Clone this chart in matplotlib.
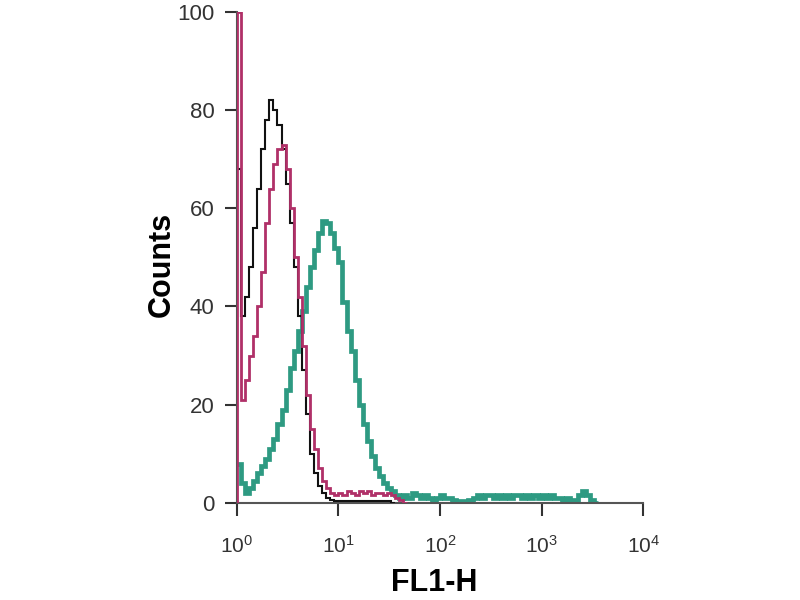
import numpy as np
import matplotlib
matplotlib.use("Agg")
import matplotlib.pyplot as plt

plt.rcParams['font.family'] = ['Liberation Sans', 'DejaVu Sans']
plt.rcParams['mathtext.fontset'] = 'custom'
plt.rcParams['mathtext.rm'] = 'Liberation Sans'
plt.rcParams['mathtext.it'] = 'Liberation Sans'

# channel width, in decades (log10 of FL1-H)
channel_step = 0.04
# counts per channel
black_counts = [68, 38, 42, 48, 56, 64, 72, 78, 82, 80, 77, 72, 65, 57, 48, 38, 27, 18,
                10, 6, 3.5, 2, 1, 0.5, 0.3, 0.3, 0.3, 0.3, 0.3, 0.3, 0.3, 0.3, 0.3, 0.3,
                0.3, 0.3, 0.3, 0.3, 0]
magenta_counts = [100, 21, 25, 30, 34, 40, 47, 57, 64, 69, 72, 73, 68, 60, 50, 42, 32, 22,
                  15, 11, 7, 4.5, 3, 2, 1.5, 2, 1.5, 2.5, 2, 1.5, 2.5, 2, 2.5, 1.5, 2, 2,
                  1.5, 2, 1.5, 1, 0.5, 0]
teal_counts = [8, 4, 2, 3, 4.5, 6, 7.5, 9, 11, 13, 16, 19, 23, 27.5, 31, 35, 39, 44, 48,
               51.5, 55, 57.5, 57, 55, 52, 49, 41, 35, 31, 25, 20, 16, 12.5, 9.5, 7, 5.5,
               4, 3, 2.5, 1.5,
               1, 1.5, 1, 2, 1.5, 1, 1.5, 1, 0.5, 1, 1.5, 1, 1, 0.5, 0.3,
               0.3, 0.3, 0.5,
               1, 1.5, 1, 1.5, 1.5, 1, 1.5, 1, 1.5, 1, 1.5, 1.5, 1, 1.5, 1, 1.5, 1, 1.5,
               1, 1.5, 1, 1, 0.5, 1, 0.5, 0.5,
               1.5, 2.5, 1.5, 0.5, 0]

x_ticks = [1, 10, 100, 1000, 10000]
x_tick_labels = ['$10^0$', '$10^1$', '$10^2$', '$10^3$', '$10^4$']
y_ticks = [0, 20, 40, 60, 80, 100]

def edges_for(counts):
    return 10 ** (np.arange(len(counts) + 1) * channel_step)

fig = plt.figure(figsize=(8, 6), dpi=100)
ax = fig.add_axes([0.296, 0.162, 0.508, 0.818])

ax.stairs(teal_counts, edges_for(teal_counts), baseline=None, color='#2e9a82', lw=3.4, zorder=2)
ax.stairs(black_counts, edges_for(black_counts), baseline=None, color='#111111', lw=1.5, zorder=3)
ax.stairs(magenta_counts, edges_for(magenta_counts), baseline=0, color='#b03068', lw=2.0, zorder=4)

ax.set_xscale('log')
ax.set_xlim(1, 10000)
ax.set_ylim(0, 100)
ax.set_xticks(x_ticks)
ax.set_xticklabels(x_tick_labels)
ax.xaxis.set_minor_locator(matplotlib.ticker.NullLocator())
ax.set_yticks(y_ticks)

for s in ['top', 'right']:
    ax.spines[s].set_visible(False)
for s in ['left', 'bottom']:
    ax.spines[s].set_color('#555555')
    ax.spines[s].set_linewidth(1.5)

ax.tick_params(axis='both', direction='out', length=9, width=1.5, color='#333333',
               labelcolor='#333333')
ax.tick_params(axis='y', pad=7, labelsize=16)
ax.tick_params(axis='x', pad=14, labelsize=15)

ax.set_ylabel('Counts', fontsize=22, fontweight='bold')
ax.yaxis.set_label_coords(-0.148, 0.485)
ax.set_xlabel('FL1-H', fontsize=22, fontweight='bold')
ax.xaxis.set_label_coords(0.485, -0.132)

fig.savefig('out.png', dpi=100)
